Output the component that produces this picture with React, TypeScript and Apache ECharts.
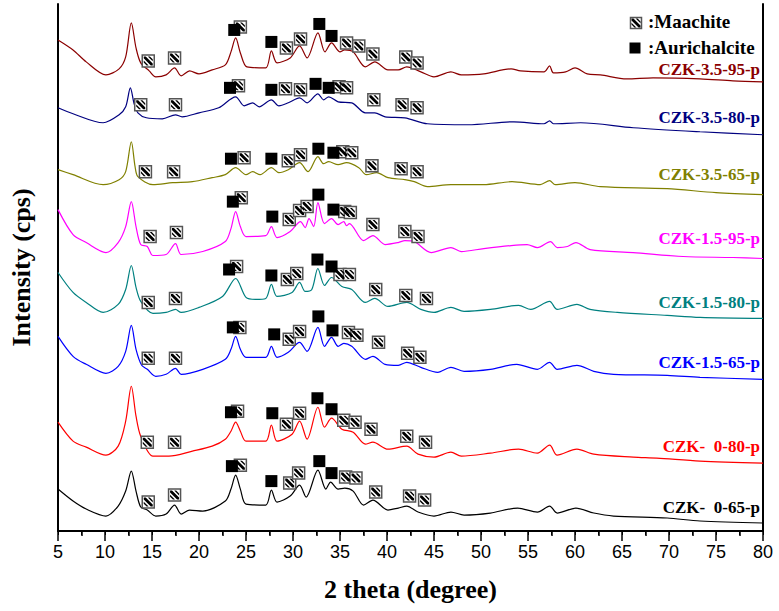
import React, { useEffect, useRef } from "react";
import * as echarts from "echarts";

// ---- data: [2theta (deg), stacked intensity (a.u.)] ----
const seriesNames = [
  "CZK-3.5-95-p",
  "CZK-3.5-80-p",
  "CZK-3.5-65-p",
  "CZK-1.5-95-p",
  "CZK-1.5-80-p",
  "CZK-1.5-65-p",
  "CZK-  0-80-p",
  "CZK-  0-65-p",
];
const seriesColors = ["#8b0000", "#000080", "#808000", "#ff00ff", "#008080", "#0000ff", "#ff0000", "#000000"];

const t1 = [[5.0,492],[6.6,482],[8.0,470],[10.1,457],[11.5,463],[12.2,475],[12.8,509],[13.3,484],[13.8,469],[14.7,461],[15.4,455],[16.5,457],[17.4,464],[18.1,456],[19.0,461],[20.0,458],[21.4,462],[22.8,467],[23.4,480],[23.9,494],[24.4,479],[25.1,465],[27.1,464],[27.7,481],[28.3,469],[29.7,474],[30.7,486],[31.5,474],[32.65,499],[33.4,480],[34.1,489],[35.0,480],[35.5,482],[36.4,480],[37.7,465],[38.7,470],[40.1,462],[41.2,462],[42.1,465],[43.6,460],[45.0,455],[46.8,460],[47.9,457],[50.3,458],[53.2,463],[54.2,461],[56.7,460],[57.3,466],[57.7,459],[59.0,460],[60.0,464],[61.3,458],[62.7,457],[65.5,453],[68.3,454],[73.3,453],[76.8,451],[80.0,450]];
const t2 = [[5.0,424],[6.6,418],[9.8,409],[11.5,417],[12.2,425],[12.7,444],[13.1,428],[13.5,419],[14.4,414],[16.1,413],[17.5,417],[18.2,415],[20.0,419],[22.1,424],[23.9,435],[24.8,426],[25.7,429],[26.4,425],[27.7,432],[28.5,426],[29.5,429],[30.7,434],[31.5,429],[32.65,438],[33.25,432],[33.8,435],[34.8,430],[36.25,429],[37.7,419],[38.7,419],[39.8,415],[41.9,414],[44.3,408],[48.6,407],[53.5,410],[56.7,408],[57.3,411],[57.7,408],[60.6,409],[66.2,404],[73.3,400],[80.0,397]];
const t3 = [[5.0,362],[6.6,357],[9.8,347],[11.5,352],[12.2,360],[12.8,390],[13.2,365],[13.5,355],[15.1,347],[17.2,349],[19.3,350],[21.4,354],[22.8,357],[23.9,364],[25.0,357],[25.7,360],[26.5,357],[27.7,364],[28.5,359],[29.5,362],[30.7,369],[31.6,360],[32.65,375],[33.25,368],[33.8,370],[34.8,367],[35.7,369],[37.0,364],[37.8,357],[38.9,359],[40.1,354],[41.9,352],[42.9,350],[44.3,345],[46.8,347],[50.3,347],[53.3,350],[56.3,347],[57.3,351],[57.9,347],[60.0,349],[62.7,345],[69.8,343],[75.0,339],[80.0,337]];
const t4 = [[5.0,322],[6.6,297],[8.0,289],[10.1,279],[11.4,289],[12.2,305],[12.8,330],[13.3,305],[13.8,287],[14.5,285],[15.1,276],[16.5,277],[17.5,288],[18.1,277],[20.4,280],[22.8,290],[23.4,303],[23.9,320],[24.4,305],[25.0,295],[27.1,296],[27.7,305],[28.3,294],[29.7,300],[30.8,310],[31.3,304],[31.7,313],[32.2,305],[32.65,329],[33.35,308],[34.1,313],[34.8,307],[35.4,310],[35.7,306],[36.0,308],[37.5,291],[38.5,296],[39.8,287],[41.2,289],[41.9,291],[42.9,290],[44.7,279],[46.8,284],[47.9,280],[50.3,283],[53.2,286],[54.9,287],[56.0,284],[57.4,290],[58.1,284],[59.2,285],[60.1,289],[61.6,282],[66.2,279],[71.5,275],[76.8,274],[80.0,273]];
const t5 = [[5.0,259],[6.6,239],[8.0,229],[9.8,219],[11.4,227],[12.2,242],[12.8,266],[13.3,244],[13.8,230],[15.1,218],[16.5,219],[17.5,222],[18.1,219],[20.0,224],[22.5,235],[23.9,253],[25.0,234],[26.0,232],[27.1,233],[27.7,247],[28.3,235],[29.9,239],[30.7,249],[31.3,240],[32.0,242],[32.65,263],[33.35,246],[34.1,254],[35.2,245],[36.25,242],[37.7,229],[38.7,233],[40.1,225],[42.1,229],[43.6,222],[45.0,219],[46.8,224],[48.2,220],[51.0,222],[54.0,226],[55.3,222],[57.3,230],[58.1,222],[60.2,227],[61.6,222],[64.5,219],[69.8,216],[73.3,214],[80.0,213]];
const t6 = [[5.0,195],[6.6,175],[8.0,167],[10.1,158],[11.4,165],[12.2,180],[12.8,206],[13.3,182],[13.9,166],[14.5,162],[15.4,155],[16.5,157],[17.5,163],[18.1,157],[20.4,162],[22.8,172],[23.4,182],[23.9,195],[24.4,182],[25.0,174],[27.1,174],[27.7,185],[28.3,174],[29.5,179],[30.7,189],[31.5,180],[32.65,204],[33.35,185],[34.1,194],[34.8,185],[35.4,188],[36.25,185],[37.7,172],[38.5,175],[39.8,167],[41.2,166],[42.1,169],[43.6,164],[45.4,159],[46.8,164],[48.2,160],[51.0,162],[53.8,167],[56.0,162],[57.3,169],[58.1,162],[60.2,166],[62.0,160],[64.1,157],[69.8,156],[73.3,154],[80.0,152]];
const t7 = [[5.0,109],[6.6,90],[8.0,84],[10.1,76],[11.4,85],[12.2,110],[12.8,145],[13.3,115],[13.8,95],[15.1,75],[16.8,75],[19.3,80],[21.4,85],[22.8,92],[23.4,100],[23.9,109],[24.4,100],[25.0,90],[27.1,90],[27.7,106],[28.3,90],[29.9,97],[30.7,110],[31.5,92],[32.65,124],[33.35,104],[34.1,113],[35.2,102],[36.4,99],[37.7,87],[38.5,89],[40.1,82],[42.1,85],[43.3,77],[45.0,74],[46.8,79],[47.9,75],[51.0,78],[54.0,82],[56.0,78],[57.3,86],[58.1,76],[60.2,82],[62.0,77],[66.2,74],[68.7,73],[73.3,70],[80.0,68]];
const t8 = [[5.0,42],[6.6,30],[8.0,22],[10.1,15],[11.4,25],[12.2,40],[12.8,60],[13.3,40],[13.8,24],[14.5,21],[15.4,15],[16.5,17],[17.4,26],[18.1,17],[19.0,21],[20.4,20],[22.8,30],[23.4,42],[23.9,56],[24.4,42],[25.0,27],[27.1,26],[27.7,41],[28.3,29],[29.7,35],[30.7,46],[31.4,34],[32.65,61],[33.5,42],[34.0,49],[34.8,42],[35.5,43],[36.4,40],[37.5,26],[38.5,31],[40.1,21],[41.2,23],[42.1,25],[43.3,19],[45.0,15],[46.8,19],[48.2,16],[51.0,18],[53.9,23],[56.0,19],[57.3,25],[58.1,18],[60.1,23],[62.0,18],[64.1,15],[69.8,13],[73.3,10],[80.0,8]];

// phase markers [2theta, stacked intensity]
const maa1 = [[14.6,471],[17.4,474],[24.4,505],[29.3,484],[30.8,493],[35.7,489],[37.0,486],[38.5,478],[42.0,475],[43.2,469]];
const aur1 = [[23.75,502],[27.7,490],[32.8,508],[34.1,496]];
const maa2 = [[13.8,427],[17.5,427],[24.2,446],[29.2,443],[30.8,442],[34.9,445],[35.7,444],[38.6,432],[41.6,427],[43.2,424]];
const aur2 = [[23.3,444],[27.7,442],[32.4,448],[33.8,444]];
const maa3 = [[14.3,360],[17.3,360],[24.8,374],[29.5,371],[30.8,377],[35.3,380],[36.25,379],[38.4,366],[41.5,363],[43.2,360]];
const aur3 = [[23.4,373],[27.7,373],[32.7,383],[34.3,379]];
const maa4 = [[14.8,295],[17.6,299],[24.5,334],[29.6,312],[30.7,321],[31.5,325],[35.5,320],[36.1,319],[38.5,307],[41.9,300],[43.3,295]];
const aur4 = [[23.6,330],[27.8,315],[32.7,337],[34.3,322]];
const maa5 = [[14.6,229],[17.5,233],[24.0,265],[29.4,252],[30.4,258],[35.0,257],[36.0,257],[38.8,242],[42.0,236],[44.2,233]];
const aur5 = [[23.2,262],[27.7,256],[32.6,272],[34.1,265]];
const maa6 = [[14.6,173],[17.5,173],[24.35,204],[29.6,192],[30.7,200],[35.9,199],[36.8,196],[39.1,189],[42.2,178],[43.5,174]];
const aur6 = [[23.6,204],[28.0,197],[32.7,215],[34.2,201]];
const maa7 = [[14.5,89],[17.4,89],[24.1,120],[29.3,107],[30.7,118],[35.4,111],[36.6,109],[38.3,102],[42.1,95],[44.1,89]];
const aur7 = [[23.4,119],[27.8,118],[32.6,133],[34.1,122]];
const maa8 = [[14.6,29],[17.4,36],[24.4,66],[29.65,48],[30.6,58],[35.6,54],[36.7,53],[38.8,39],[42.4,35],[44.0,31]];
const aur8 = [[23.5,65],[27.7,50],[32.8,70],[34.1,58]];

const xTicks = { min: 5, max: 80, interval: 5 };
const labelYs = [70, 118, 175, 239, 303, 363, 447, 508];

const traces = [t1, t2, t3, t4, t5, t6, t7, t8];
const maachite = [maa1, maa2, maa3, maa4, maa5, maa6, maa7, maa8].flat();
const aurichalcite = [aur1, aur2, aur3, aur4, aur5, aur6, aur7, aur8].flat();

const hatchD = "M0 0L2.2 0L10 7.8L10 10L7.8 10L0 2.2Z M4.6 0L6.8 0L10 3.2L10 5.4Z M0 4.6L5.4 10L3.2 10L0 6.8Z";
let registered = false;

const SERIF = '"Liberation Serif", "Times New Roman", serif';
const SANS = '"Liberation Sans", Arial, sans-serif';

export default function App() {
  const ref = useRef<HTMLDivElement>(null);
  useEffect(() => {
    if (!ref.current) return;
    if (!registered) {
      echarts.graphic.registerShape("hatch", echarts.graphic.extendPath(hatchD, {}));
      registered = true;
    }
    const chart = echarts.init(ref.current, null, { renderer: "svg" });
    const lineSeries = traces.map((d, i) => ({
      type: "line",
      name: seriesNames[i],
      data: d,
      showSymbol: false,
      symbol: "none",
      smooth: 0.3,
      lineStyle: { color: seriesColors[i], width: 1.2 },
      silent: true,
      z: 2,
    }));
    const option: any = {
      animation: false,
      grid: { left: 55, right: 16, top: 4, bottom: 80 },
      xAxis: [
        {
          type: "value",
          min: xTicks.min,
          max: xTicks.max,
          interval: xTicks.interval,
          position: "bottom",
          name: "2 theta (degree)",
          nameLocation: "middle",
          nameGap: 45,
          nameTextStyle: { fontFamily: SERIF, fontWeight: "bold", fontSize: 26, color: "#000" },
          axisLine: { show: true, lineStyle: { color: "#000", width: 2 } },
          axisTick: { show: true, inside: false, length: 10, lineStyle: { color: "#000", width: 1.5 } },
          minorTick: { show: true, splitNumber: 2, length: 5, lineStyle: { color: "#000", width: 1.5 } },
          axisLabel: { fontFamily: SANS, fontSize: 18, color: "#000", margin: 12 },
          splitLine: { show: false },
        },
        {
          type: "value",
          min: xTicks.min,
          max: xTicks.max,
          interval: xTicks.interval,
          position: "top",
          axisLine: { show: true, lineStyle: { color: "#000", width: 2 } },
          axisTick: { show: true, inside: true, length: 4, lineStyle: { color: "#000", width: 1 } },
          minorTick: { show: true, splitNumber: 2, length: 4, lineStyle: { color: "#000", width: 1 } },
          axisLabel: { show: false },
          splitLine: { show: false },
        },
      ],
      yAxis: [
        {
          type: "value",
          min: 0,
          max: 528,
          position: "left",
          name: "Intensity (cps)",
          nameLocation: "middle",
          nameRotate: 90,
          nameGap: 24,
          nameTextStyle: { fontFamily: SERIF, fontWeight: "bold", fontSize: 26, color: "#000" },
          axisLine: { show: true, lineStyle: { color: "#000", width: 2 } },
          axisTick: { show: false },
          axisLabel: { show: false },
          splitLine: { show: false },
        },
        {
          type: "value",
          min: 0,
          max: 528,
          position: "right",
          axisLine: { show: true, lineStyle: { color: "#000", width: 2 } },
          axisTick: { show: false },
          axisLabel: { show: false },
          splitLine: { show: false },
        },
      ],
      series: [
        ...lineSeries,
        {
          type: "scatter",
          name: "Maachite-bg",
          data: maachite,
          symbol: "rect",
          symbolSize: 12,
          itemStyle: { color: "#fff", borderColor: "#555", borderWidth: 1.5, opacity: 1 },
          silent: true,
          z: 3,
        },
        {
          type: "scatter",
          name: "Maachite",
          data: maachite,
          symbol: "path://" + hatchD,
          symbolSize: 9,
          itemStyle: { color: "#000", opacity: 1 },
          silent: true,
          z: 4,
        },
        {
          type: "scatter",
          name: "Aurichalcite",
          data: aurichalcite,
          symbol: "rect",
          symbolSize: 12,
          itemStyle: { color: "#000", opacity: 1 },
          silent: true,
          z: 5,
        },
      ],
      graphic: [
        ...seriesNames.map((n, i) => ({
          type: "text",
          right: 19,
          y: labelYs[i] - 9,
          style: {
            text: n,
            font: `bold 17px ${SERIF}`,
            fill: seriesColors[i],
            textAlign: "right",
          },
          silent: true,
        })),
        {
          type: "rect",
          shape: { x: 630.5, y: 17.5, width: 11, height: 11 },
          style: { fill: "#fff", stroke: "#555", lineWidth: 1.5 },
          silent: true,
        },
        {
          type: "hatch",
          x: 631.5,
          y: 18.5,
          scaleX: 0.9,
          scaleY: 0.9,
          style: { fill: "#000" },
          silent: true,
        },
        {
          type: "rect",
          shape: { x: 629.5, y: 42.5, width: 11, height: 11 },
          style: { fill: "#000" },
          silent: true,
        },
        {
          type: "text",
          x: 648,
          y: 12,
          style: { text: ":Maachite", font: `bold 19px ${SERIF}`, fill: "#000" },
          silent: true,
        },
        {
          type: "text",
          x: 648,
          y: 38,
          style: { text: ":Aurichalcite", font: `bold 19px ${SERIF}`, fill: "#000" },
          silent: true,
        },
      ],
    };
    chart.setOption(option);
    return () => chart.dispose();
  }, []);
  return (
    <div
      ref={ref}
      style={{ position: "fixed", left: 0, top: 0, width: 779, height: 611, background: "#fff" }}
    />
  );
}
